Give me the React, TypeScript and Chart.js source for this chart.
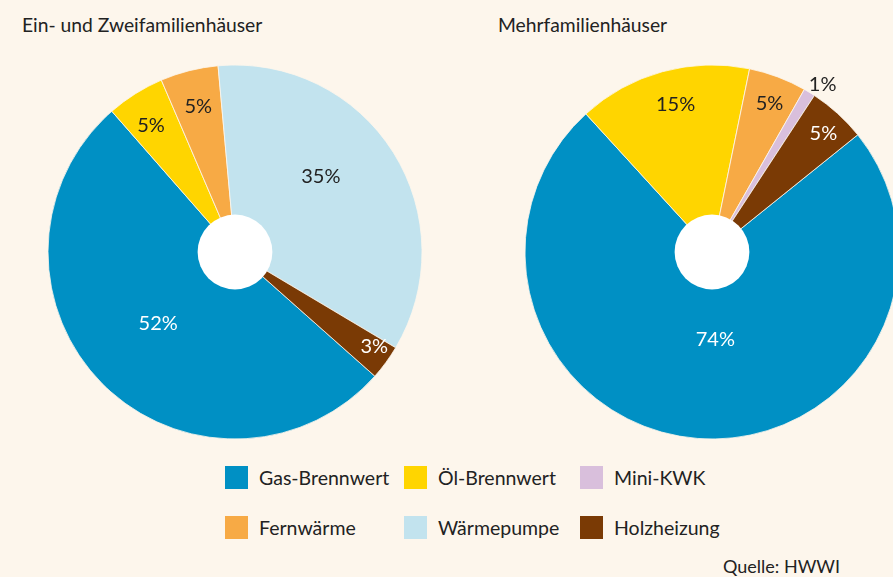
import React, { useEffect, useRef } from "react";
import { Chart, registerables } from "chart.js";
Chart.register(...registerables);

const FONT = "Lato, 'DejaVu Sans', sans-serif";
const BG = "#fdf6ec";

const categories = ["Gas-Brennwert", "Öl-Brennwert", "Fernwärme", "Wärmepumpe", "Mini-KWK", "Holzheizung"];
const colors: Record<string, string> = {
  "Gas-Brennwert": "#0090c4",
  "Öl-Brennwert": "#ffd500",
  "Fernwärme": "#f7aa45",
  "Wärmepumpe": "#c2e3ee",
  "Mini-KWK": "#d9bfdc",
  "Holzheizung": "#7a3a05",
};

const leftTitle = "Ein- und Zweifamilienhäuser";
const leftLabels = ["Gas-Brennwert", "Öl-Brennwert", "Fernwärme", "Wärmepumpe", "Holzheizung"];
const leftValues = [52, 5, 5, 35, 3];
const leftTextColors = ["#ffffff", "#222222", "#222222", "#222222", "#ffffff"];
const leftLabelRadius = [0.56, 0.81, 0.8, 0.61, 0.9];
const leftLabelShift = [2, -1.5, 0, -9, -2];
const leftRotation = 131.6;

const rightTitle = "Mehrfamilienhäuser";
const rightLabels = ["Gas-Brennwert", "Öl-Brennwert", "Fernwärme", "Mini-KWK", "Holzheizung"];
const rightValues = [74, 15, 5, 1, 5];
const rightTextColors = ["#ffffff", "#222222", "#222222", "#222222", "#ffffff"];
const rightLabelRadius = [0.47, 0.81, 0.85, 1.075, 0.87];
const rightLabelShift = [-6.6, 1.5, 0.6, 2, 1];
const rightRotation = 51.2;

const legendRows = [
  ["Gas-Brennwert", "Öl-Brennwert", "Mini-KWK"],
  ["Fernwärme", "Wärmepumpe", "Holzheizung"],
];

const labelPlugin = {
  id: "sliceLabels",
  afterDatasetsDraw(chart: any) {
    const opts = chart.options.plugins.sliceLabels;
    const meta = chart.getDatasetMeta(0);
    const ctx = chart.ctx;
    ctx.save();
    const first = meta.data[0];
    const cx = first.x, cy = first.y, R = first.outerRadius;
    // white hole
    ctx.beginPath();
    ctx.arc(cx, cy, R * 0.2, 0, Math.PI * 2);
    ctx.fillStyle = "#ffffff";
    ctx.fill();
    ctx.font = "20px " + FONT;
    ctx.textAlign = "center";
    ctx.textBaseline = "middle";
    meta.data.forEach((arc: any, i: number) => {
      const mid = (arc.startAngle + arc.endAngle) / 2 + (opts.shift[i] * Math.PI) / 180;
      const r = R * opts.radius[i];
      const x = cx + Math.cos(mid) * r;
      const y = cy + Math.sin(mid) * r;
      ctx.fillStyle = opts.colors[i];
      ctx.fillText(chart.data.datasets[0].data[i] + "%", x, y);
    });
    ctx.restore();
  },
};

function Pie(props: {
  labels: string[];
  values: number[];
  rotation: number;
  textColors: string[];
  radius: number[];
  shift: number[];
  left: number;
}) {
  const ref = useRef<HTMLCanvasElement>(null);
  useEffect(() => {
    if (!ref.current) return;
    const chart = new Chart(ref.current, {
      type: "pie",
      data: {
        labels: props.labels,
        datasets: [
          {
            data: props.values,
            backgroundColor: props.labels.map((l) => colors[l]),
            borderColor: BG,
            borderWidth: 0.8,
          },
        ],
      },
      options: {
        animation: false,
        responsive: false,
        rotation: props.rotation,
        radius: 187,
        layout: { padding: 0 },
        plugins: {
          legend: { display: false },
          tooltip: { enabled: false },
          sliceLabels: {
            colors: props.textColors,
            radius: props.radius,
            shift: props.shift,
          },
        } as any,
      },
      plugins: [labelPlugin],
    });
    return () => chart.destroy();
  }, []);
  return (
    <canvas
      ref={ref}
      width={400}
      height={400}
      style={{ position: "absolute", left: props.left, top: 52, width: 400, height: 400 }}
    />
  );
}

export default function App() {
  const legendX = [225, 404, 580];
  const legendY = [477, 527];
  return (
    <div
      style={{
        position: "absolute",
        left: 0,
        top: 0,
        width: 893,
        height: 577,
        overflow: "hidden",
        background: BG,
        fontFamily: FONT,
        color: "#222",
      }}
    >
      <div style={{ position: "absolute", left: 22, top: 12, fontSize: 19.3, lineHeight: "26px" }}>{leftTitle}</div>
      <div style={{ position: "absolute", left: 498, top: 12, fontSize: 19.3, lineHeight: "26px" }}>{rightTitle}</div>
      <Pie
        labels={leftLabels}
        values={leftValues}
        rotation={leftRotation}
        textColors={leftTextColors}
        radius={leftLabelRadius}
        shift={leftLabelShift}
        left={35}
      />
      <Pie
        labels={rightLabels}
        values={rightValues}
        rotation={rightRotation}
        textColors={rightTextColors}
        radius={rightLabelRadius}
        shift={rightLabelShift}
        left={512}
      />
      {legendRows.map((row, ri) =>
        row.map((name, ci) => (
          <div
            key={name}
            style={{
              position: "absolute",
              left: legendX[ci],
              top: legendY[ri] - 13,
              height: 26,
              display: "flex",
              alignItems: "center",
              fontSize: 19.5,
              whiteSpace: "nowrap",
            }}
          >
            <span style={{ display: "inline-block", width: 23, height: 23, background: colors[name], marginRight: 11 }} />
            <span>{name}</span>
          </div>
        ))
      )}
      <div style={{ position: "absolute", right: 53, top: 555, fontSize: 18, lineHeight: "22px" }}>Quelle: HWWI</div>
    </div>
  );
}
